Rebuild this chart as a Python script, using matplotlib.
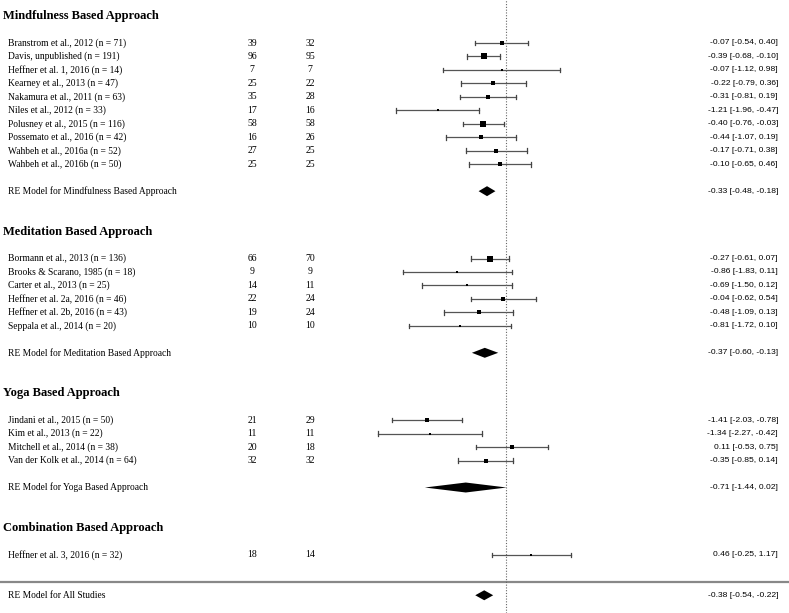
import numpy as np
import matplotlib
matplotlib.use("Agg")
import matplotlib.pyplot as plt
from matplotlib.patches import Polygon

# ---- data ----
groups = ["Mindfulness Based Approach", "Meditation Based Approach",
          "Yoga Based Approach", "Combination Based Approach"]

studies = [
    ["Branstrom et al., 2012 (n = 71)", "Davis, unpublished (n = 191)",
     "Heffner et al. 1, 2016 (n = 14)", "Kearney et al., 2013 (n = 47)",
     "Nakamura et al., 2011 (n = 63)", "Niles et al., 2012 (n = 33)",
     "Polusney et al., 2015 (n = 116)", "Possemato et al., 2016 (n = 42)",
     "Wahbeh et al., 2016a (n = 52)", "Wahbeh et al., 2016b (n = 50)"],
    ["Bormann et al., 2013 (n = 136)", "Brooks & Scarano, 1985 (n = 18)",
     "Carter et al., 2013 (n = 25)", "Heffner et al. 2a, 2016 (n = 46)",
     "Heffner et al. 2b, 2016 (n = 43)", "Seppala et al., 2014 (n = 20)"],
    ["Jindani et al., 2015 (n = 50)", "Kim et al., 2013 (n = 22)",
     "Mitchell et al., 2014 (n = 38)", "Van der Kolk et al., 2014 (n = 64)"],
    ["Heffner et al. 3, 2016 (n = 32)"],
]
n_treat = [[39, 96, 7, 25, 35, 17, 58, 16, 27, 25],
           [66, 9, 14, 22, 19, 10],
           [21, 11, 20, 32],
           [18]]
n_ctrl = [[32, 95, 7, 22, 28, 16, 58, 26, 25, 25],
          [70, 9, 11, 24, 24, 10],
          [29, 11, 18, 32],
          [14]]
est = [[-0.07, -0.39, -0.07, -0.22, -0.31, -1.21, -0.40, -0.44, -0.17, -0.10],
       [-0.27, -0.86, -0.69, -0.04, -0.48, -0.81],
       [-1.41, -1.34, 0.11, -0.35],
       [0.46]]
lower = [[-0.54, -0.68, -1.12, -0.79, -0.81, -1.96, -0.76, -1.07, -0.71, -0.65],
         [-0.61, -1.83, -1.50, -0.62, -1.09, -1.72],
         [-2.03, -2.27, -0.53, -0.85],
         [-0.25]]
upper = [[0.40, -0.10, 0.98, 0.36, 0.19, -0.47, -0.03, 0.19, 0.38, 0.46],
         [0.07, 0.11, 0.12, 0.54, 0.13, 0.10],
         [-0.78, -0.42, 0.75, 0.14],
         [1.17]]
re_est = [-0.33, -0.37, -0.71, None]
re_lower = [-0.48, -0.60, -1.44, None]
re_upper = [-0.18, -0.13, 0.02, None]
all_est, all_lower, all_upper = -0.38, -0.54, -0.22

# ---- layout (pixel based) ----
W, H = 789, 613
X0, XSCALE = 505.5, 56.0     # pixel of zero, pixels per unit
Y0, YSCALE = 43.0, 13.47     # pixel of first row, pixels per row


def px(x):
    return (x - X0) / XSCALE


plt.rcParams['font.family'] = ['Liberation Serif', 'DejaVu Serif']
fig = plt.figure(figsize=(W / 100, H / 100), dpi=100)
ax = fig.add_axes([0, 0, 1, 1])
ax.set_xlim(px(0), px(W))
ax.set_ylim((H - Y0) / YSCALE, -Y0 / YSCALE)
ax.axis("off")

all_w = [1 / (u - l) for g in range(4) for l, u in zip(lower[g], upper[g])]
wmin, wmax = min(all_w), max(all_w)

group_rows = [(-2, 0, 11), (14, 16, 23), (26, 28, 33), (36, 38, None)]
cap = 0.17
dh = 0.37
right_x = px(778)
sans = ["Liberation Sans", "DejaVu Sans"]
fs_lab, fs_num, fs_ci, fs_head = 6.85, 7.0, 6.1, 9.0

for g, (hrow, srow, rerow) in enumerate(group_rows):
    ax.text(px(3), hrow, groups[g], fontsize=fs_head, fontweight="bold",
            ha="left", va="center")
    for i, name in enumerate(studies[g]):
        y = srow + i
        ax.text(px(8), y, name, fontsize=fs_lab, ha="left", va="center")
        ax.text(px(252), y, str(n_treat[g][i]), fontsize=fs_num, ha="center", va="center")
        ax.text(px(310), y, str(n_ctrl[g][i]), fontsize=fs_num, ha="center", va="center")
        lo, hi, e = lower[g][i], upper[g][i], est[g][i]
        ax.plot([lo, hi], [y, y], color="#555555", lw=0.9)
        ax.plot([lo, lo], [y - cap, y + cap], color="#444444", lw=0.9)
        ax.plot([hi, hi], [y - cap, y + cap], color="#444444", lw=0.9)
        w = 1 / (hi - lo)
        s = 2.2 + 4.2 * (w - wmin) / (wmax - wmin)
        ax.plot(e, y, marker="s", color="black", ms=s * 0.72, mew=0)
        ax.text(right_x, y, f"{e:.2f} [{lo:.2f}, {hi:.2f}]", fontsize=fs_ci,
                ha="right", va="center", family=sans)
    if rerow is not None:
        ax.text(px(8), rerow, "RE Model for " + groups[g], fontsize=fs_lab,
                ha="left", va="center")
        ax.add_patch(Polygon([[re_lower[g], rerow], [re_est[g], rerow - dh],
                              [re_upper[g], rerow], [re_est[g], rerow + dh]],
                             closed=True, color="black", lw=0))
        ax.text(right_x, rerow,
                f"{re_est[g]:.2f} [{re_lower[g]:.2f}, {re_upper[g]:.2f}]",
                fontsize=fs_ci, ha="right", va="center", family=sans)

# overall model
ax.axhline(40.0, color="#888888", lw=1.6)
ax.text(px(8), 41, "RE Model for All Studies", fontsize=fs_lab, ha="left", va="center")
ax.add_patch(Polygon([[all_lower, 41], [all_est, 41 - dh],
                      [all_upper, 41], [all_est, 41 + dh]],
                     closed=True, color="black", lw=0))
ax.text(right_x, 41, f"{all_est:.2f} [{all_lower:.2f}, {all_upper:.2f}]",
        fontsize=fs_ci, ha="right", va="center", family=sans)

ax.axvline(0, color="#666666", lw=0.8, ls=(0, (1, 1.5)))

fig.savefig("out.png", dpi=100)
